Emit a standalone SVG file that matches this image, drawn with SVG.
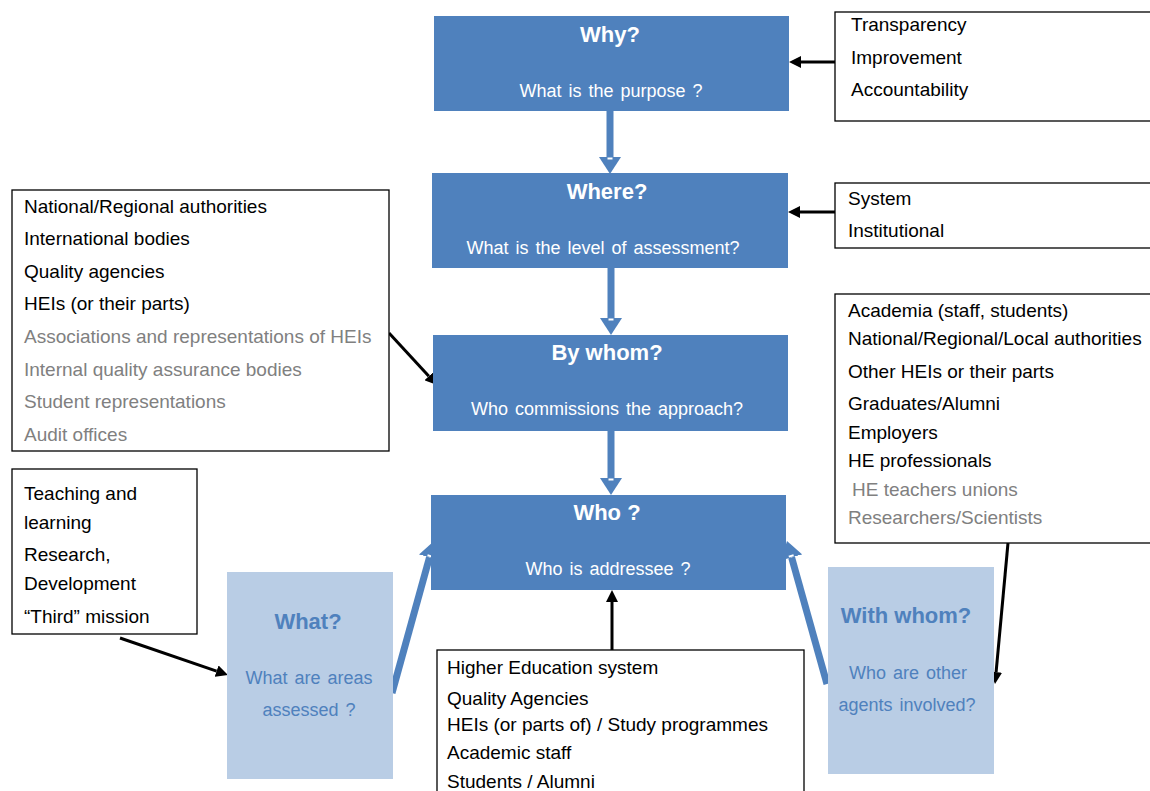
<svg xmlns="http://www.w3.org/2000/svg" width="1150" height="791" viewBox="0 0 1150 791">
  <style>
    .q { fill: #4F81BD; }
    .ql { fill: #B9CDE5; }
    .list { fill: #ffffff; stroke: #000000; stroke-width: 1.3; }
    .t { font-family: "Liberation Sans", Arial, sans-serif; font-size: 19px; fill: #000000; }
    .g { fill: #808080; }
    .h { font-family: "Liberation Sans", Arial, sans-serif; font-size: 22px; font-weight: bold; fill: #ffffff; text-anchor: middle; }
    .s { font-family: "Liberation Sans", Arial, sans-serif; font-size: 18px; fill: #ffffff; text-anchor: middle; word-spacing: 2px; }
    .hb { fill: #4F81BD; }
    .blk { stroke: #000000; stroke-width: 3; fill: none; }
    .blue { stroke: #4F81BD; stroke-width: 7; fill: none; }
  </style>
  <defs>
    <marker id="headBlack" markerUnits="userSpaceOnUse" viewBox="0 -6 12 12" markerWidth="12" markerHeight="12" refX="0" refY="0" orient="auto">
      <path d="M0,-6 L12,0 L0,6 z" fill="#000000"/>
    </marker>
    <marker id="headBlue" markerUnits="userSpaceOnUse" viewBox="0 -11 17 22" markerWidth="17" markerHeight="22" refX="0" refY="0" orient="auto">
      <path d="M0,-11 L17,0 L0,11 z" fill="#4F81BD"/>
      <rect x="0.5" y="-2.5" width="2" height="5" fill="#ffffff"/>
    </marker>
  </defs>

  <!-- connectors -->
  <g id="connectors">
    <!-- main vertical flow -->
    <line class="blue" x1="610" y1="111" x2="610" y2="157" marker-end="url(#headBlue)"/>
    <line class="blue" x1="611" y1="268" x2="611" y2="318" marker-end="url(#headBlue)"/>
    <line class="blue" x1="611" y1="431" x2="611" y2="478" marker-end="url(#headBlue)"/>
    <!-- side inputs into "Who ?" -->
    <line class="blue" x1="392" y1="693" x2="429.5" y2="557.4" marker-end="url(#headBlue)"/>
    <line class="blue" x1="827" y1="684" x2="791.6" y2="557.4" marker-end="url(#headBlue)"/>
    <!-- list boxes pointing to questions -->
    <line class="blk" x1="835" y1="62" x2="801" y2="62" marker-end="url(#headBlack)"/>
    <line class="blk" x1="835" y1="212" x2="800" y2="212" marker-end="url(#headBlack)"/>
    <line class="blk" x1="389" y1="333" x2="428.9" y2="376.2" marker-end="url(#headBlack)"/>
    <line class="blk" x1="1008" y1="543" x2="996.1" y2="672.1" marker-end="url(#headBlack)"/>
    <line class="blk" x1="120" y1="638" x2="216.6" y2="671.1" marker-end="url(#headBlack)"/>
    <line class="blk" x1="612" y1="650" x2="612" y2="602" marker-end="url(#headBlack)"/>
  </g>

  <!-- question boxes -->
  <g id="why">
    <rect class="q" x="434" y="16" width="355" height="95"/>
    <text class="h" x="610" y="42">Why?</text>
    <text class="s" x="611" y="97">What is the purpose ?</text>
  </g>
  <g id="where">
    <rect class="q" x="432" y="173" width="356" height="95"/>
    <text class="h" x="607" y="199">Where?</text>
    <text class="s" x="603" y="254">What is the level of assessment?</text>
  </g>
  <g id="by-whom">
    <rect class="q" x="433" y="335" width="355" height="96"/>
    <text class="h" x="607" y="360">By whom?</text>
    <text class="s" x="607" y="415">Who commissions  the approach?</text>
  </g>
  <g id="who">
    <rect class="q" x="431" y="495" width="355" height="95"/>
    <text class="h" x="607" y="520">Who ?</text>
    <text class="s" x="608" y="575">Who is addressee  ?</text>
  </g>
  <g id="what">
    <rect class="ql" x="227" y="572" width="166" height="207"/>
    <text class="h hb" x="308" y="629">What?</text>
    <text class="s hb" x="309" y="684">What are  areas</text>
    <text class="s hb" x="309" y="716">assessed ?</text>
  </g>
  <g id="with-whom">
    <rect class="ql" x="828" y="567" width="166" height="207"/>
    <text class="h hb" x="906" y="623">With whom?</text>
    <text class="s hb" x="908" y="679">Who are other</text>
    <text class="s hb" x="907" y="711">agents involved?</text>
  </g>

  <!-- list boxes -->
  <g id="purposes">
    <rect class="list" x="835" y="12" width="330" height="109"/>
    <text class="t" x="851" y="31">Transparency</text>
    <text class="t" x="851" y="64">Improvement</text>
    <text class="t" x="851" y="96">Accountability</text>
  </g>
  <g id="levels">
    <rect class="list" x="835" y="183" width="330" height="65"/>
    <text class="t" x="848" y="205">System</text>
    <text class="t" x="848" y="237">Institutional</text>
  </g>
  <g id="commissioners">
    <rect class="list" x="12" y="190" width="377" height="261"/>
    <text class="t" x="24" y="213">National/Regional authorities</text>
    <text class="t" x="24" y="245">International bodies</text>
    <text class="t" x="24" y="278">Quality agencies</text>
    <text class="t" x="24" y="310">HEIs (or their parts)</text>
    <text class="t g" x="24" y="343">Associations and representations of HEIs</text>
    <text class="t g" x="24" y="376">Internal quality assurance bodies</text>
    <text class="t g" x="24" y="408">Student representations</text>
    <text class="t g" x="24" y="441">Audit offices</text>
  </g>
  <g id="other-agents">
    <rect class="list" x="835" y="294" width="330" height="249"/>
    <text class="t" x="848" y="317">Academia (staff, students)</text>
    <text class="t" x="848" y="345">National/Regional/Local authorities</text>
    <text class="t" x="848" y="378">Other HEIs or their parts</text>
    <text class="t" x="848" y="410">Graduates/Alumni</text>
    <text class="t" x="848" y="439">Employers</text>
    <text class="t" x="848" y="467">HE professionals</text>
    <text class="t g" x="852" y="496">HE teachers unions</text>
    <text class="t g" x="848" y="524">Researchers/Scientists</text>
  </g>
  <g id="areas">
    <rect class="list" x="12" y="469" width="185" height="165"/>
    <text class="t" x="24" y="500">Teaching and</text>
    <text class="t" x="24" y="529">learning</text>
    <text class="t" x="24" y="561">Research,</text>
    <text class="t" x="24" y="590">Development</text>
    <text class="t" x="24" y="623">“Third” mission</text>
  </g>
  <g id="addressees">
    <rect class="list" x="437" y="650" width="367" height="160"/>
    <text class="t" x="447" y="674">Higher Education system</text>
    <text class="t" x="447" y="705">Quality Agencies</text>
    <text class="t" x="447" y="731">HEIs (or parts of) / Study programmes</text>
    <text class="t" x="447" y="759">Academic staff</text>
    <text class="t" x="447" y="788">Students / Alumni</text>
  </g>
</svg>
